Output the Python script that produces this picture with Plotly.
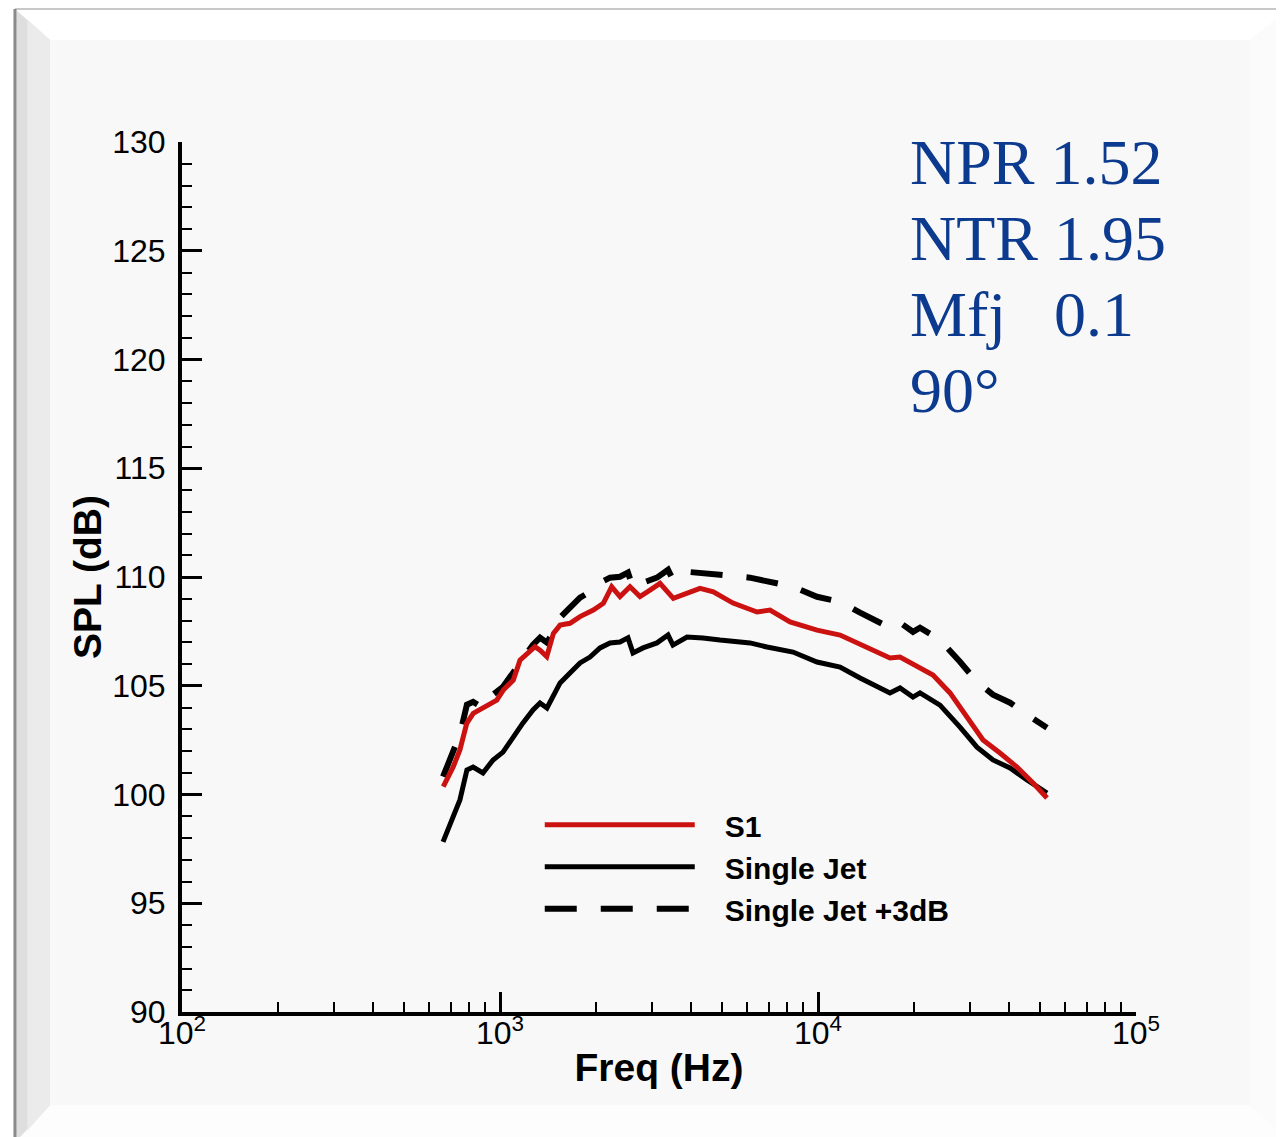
import plotly.graph_objects as go

# ---- data ----
s1_freq = [663, 713, 748, 786, 824, 908, 977, 1024, 1101, 1156, 1213, 1288, 1336, 1403,
           1472, 1545, 1660, 1785, 1965, 2113, 2245, 2384, 2563, 2756, 2963, 3185, 3508,
           3865, 4256, 4686, 5405, 6431, 7066, 8166, 9929, 11730, 14260, 16840, 18110,
           20480, 22990, 26010, 29410, 33030, 37350, 42250, 47450, 52500]
s1_spl = [100.36, 101.28, 102.05, 103.27, 103.73, 104.11, 104.34, 104.80, 105.26, 106.18,
          106.49, 106.80, 106.64, 106.34, 107.41, 107.79, 107.87, 108.18, 108.48, 108.79,
          109.55, 109.10, 109.55, 109.10, 109.40, 109.71, 109.02, 109.25, 109.48, 109.32,
          108.80, 108.39, 108.48, 107.93, 107.56, 107.33, 106.78, 106.28, 106.32, 105.86,
          105.49, 104.67, 103.56, 102.51, 101.91, 101.26, 100.53, 99.84]

sj_freq = [662, 713, 748, 787, 823, 884, 951, 1022, 1099, 1181, 1270, 1336, 1405, 1468,
           1545, 1660, 1785, 1919, 2063, 2218, 2384, 2526, 2619, 2817, 3116, 3376, 3499,
           3873, 4348, 4918, 6112, 6914, 8346, 9929, 11730, 13560, 15330, 16840, 18110,
           19890, 20930, 24190, 27960, 31620, 35500, 40170, 45410, 52500]
sj_spl = [97.82, 98.97, 99.75, 101.13, 101.26, 100.99, 101.59, 101.95, 102.64, 103.29,
          103.89, 104.21, 103.98, 104.48, 105.13, 105.59, 106.05, 106.32, 106.74, 106.97,
          107.01, 107.20, 106.51, 106.74, 106.97, 107.33, 106.87, 107.24, 107.20, 107.10,
          106.97, 106.78, 106.55, 106.09, 105.86, 105.36, 104.94, 104.67, 104.90, 104.48,
          104.67, 104.11, 103.10, 102.18, 101.59, 101.22, 100.67, 100.07]

# "Single Jet +3dB" is by definition the single-jet spectrum shifted by 3 dB
sj3_offset_db = 3
sj3_spl = [v + sj3_offset_db for v in sj_spl]

x_major = [100, 1000, 10000, 100000]
x_major_text = ["10<sup>2</sup>", "10<sup>3</sup>", "10<sup>4</sup>", "10<sup>5</sup>"]
x_minor = [m * d for d in (100, 1000, 10000) for m in range(2, 10)]
y_major = [90, 95, 100, 105, 110, 115, 120, 125, 130]

info_lines = ["NPR 1.52", "NTR 1.95", "Mfj\u00a0\u00a0\u00a00.1", "90°"]

PAD = "\u00a0\u00a0\u00a0"

# ---- figure ----
fig = go.Figure()
fig.add_trace(go.Scatter(x=sj_freq, y=sj3_spl, mode="lines", name=PAD + "Single Jet +3dB",
                         line=dict(color="black", width=6, dash="32px,24px")))
fig.add_trace(go.Scatter(x=sj_freq, y=sj_spl, mode="lines", name=PAD + "Single Jet",
                         line=dict(color="black", width=5)))
fig.add_trace(go.Scatter(x=s1_freq, y=s1_spl, mode="lines", name=PAD + "S1",
                         line=dict(color="#cc1111", width=5)))

PANEL = "#f8f8f8"
# paper coordinates of the bevelled frame (x: left line, inner left, inner right, right edge)
XL, XI, XR, XE = -0.1751, -0.1384, 1.1195, 1.1600
# y: top line, inner top, inner bottom, bottom edge
YT, YI, YB, YE = 1.1529, 1.1172, -0.1069, -0.1500

shapes = [
    # top bevel (white)
    dict(type="path", xref="paper", yref="paper", layer="below", line_width=0,
         fillcolor="#ffffff",
         path=f"M {XL},{YT} L {XE},{YT} L {XR},{YI} L {XI},{YI} Z"),
    # bottom bevel
    dict(type="path", xref="paper", yref="paper", layer="below", line_width=0,
         fillcolor="#fdfdfd",
         path=f"M {XL},{YE} L {XI},{YB} L {XR},{YB} L {XE},{YE} Z"),
    # right bevel
    dict(type="path", xref="paper", yref="paper", layer="below", line_width=0,
         fillcolor="#fbfbfb",
         path=f"M {XE},{YT} L {XR},{YI} L {XR},{YB} L {XE},{YE} Z"),
    # left bevel (grey, two tones for a gradient feel)
    dict(type="path", xref="paper", yref="paper", layer="below", line_width=0,
         fillcolor="#dedede",
         path=f"M {XL},{YT} L {XI},{YI} L {XI},{YB} L {XL},{YE} Z"),
    dict(type="path", xref="paper", yref="paper", layer="below", line_width=0,
         fillcolor="#ebebeb",
         path=f"M {XL + 0.013},{YT - 0.0135} L {XI},{YI} L {XI},{YB} L {XL + 0.013},{YE + 0.0135} Z"),
    # white area left of the frame line
    dict(type="rect", xref="paper", yref="paper", x0=-0.25, x1=XL, y0=-0.2, y1=1.2,
         fillcolor="white", line_width=0, layer="below"),
    # frame lines
    dict(type="line", xref="paper", yref="paper", x0=XL, x1=1.2, y0=YT, y1=YT,
         line=dict(color="#c8c8c8", width=2), layer="below"),
    dict(type="line", xref="paper", yref="paper", x0=XL, x1=XL, y0=YT, y1=-0.2,
         line=dict(color="#8a8a8a", width=3), layer="below"),
]

annotations = []
for i, t in enumerate(info_lines):
    annotations.append(dict(
        text=t, xref="paper", yref="paper", x=0.761, y=1.0195 - i * 0.0875,
        xanchor="left", yanchor="top", showarrow=False, align="left",
        font=dict(family="Liberation Serif, Times New Roman, serif", size=64, color="#0b3a8e")))

fig.update_layout(
    width=1276, height=1129,
    margin=dict(l=174, r=148, t=134, b=125),
    paper_bgcolor=PANEL, plot_bgcolor=PANEL,
    font=dict(family="Liberation Sans, Arial, sans-serif", color="black"),
    shapes=shapes,
    annotations=annotations,
    showlegend=True,
    legend=dict(x=0.375, y=0.245, xanchor="left", yanchor="top",
                bgcolor="rgba(0,0,0,0)", traceorder="reversed",
                itemwidth=150, tracegroupgap=0,
                font=dict(size=30, family="Liberation Sans, Arial, sans-serif", color="black",
                          weight="bold")),
    xaxis=dict(type="log", range=[2, 5], showgrid=False, zeroline=False,
               showline=True, linecolor="black", linewidth=4,
               tickmode="array", tickvals=x_major, ticktext=x_major_text,
               ticks="inside", ticklen=20, tickwidth=3, tickcolor="black",
               tickfont=dict(size=32), ticklabelstandoff=-10,
               minor=dict(tickmode="array", tickvals=x_minor, ticks="inside",
                          ticklen=10, tickwidth=2, tickcolor="black", showgrid=False),
               title=dict(text="<b>Freq (Hz)</b>", font=dict(size=39), standoff=4)),
    yaxis=dict(range=[90, 130], showgrid=False, zeroline=False,
               showline=True, linecolor="black", linewidth=4,
               tickmode="array", tickvals=y_major,
               ticks="inside", ticklen=20, tickwidth=3, tickcolor="black",
               tickfont=dict(size=32), ticklabelstandoff=6,
               minor=dict(dtick=1, ticks="inside", ticklen=10, tickwidth=2,
                          tickcolor="black", showgrid=False),
               title=dict(text="<b>SPL (dB)</b>", font=dict(size=39), standoff=0)),
)

fig.write_html("out.html")
